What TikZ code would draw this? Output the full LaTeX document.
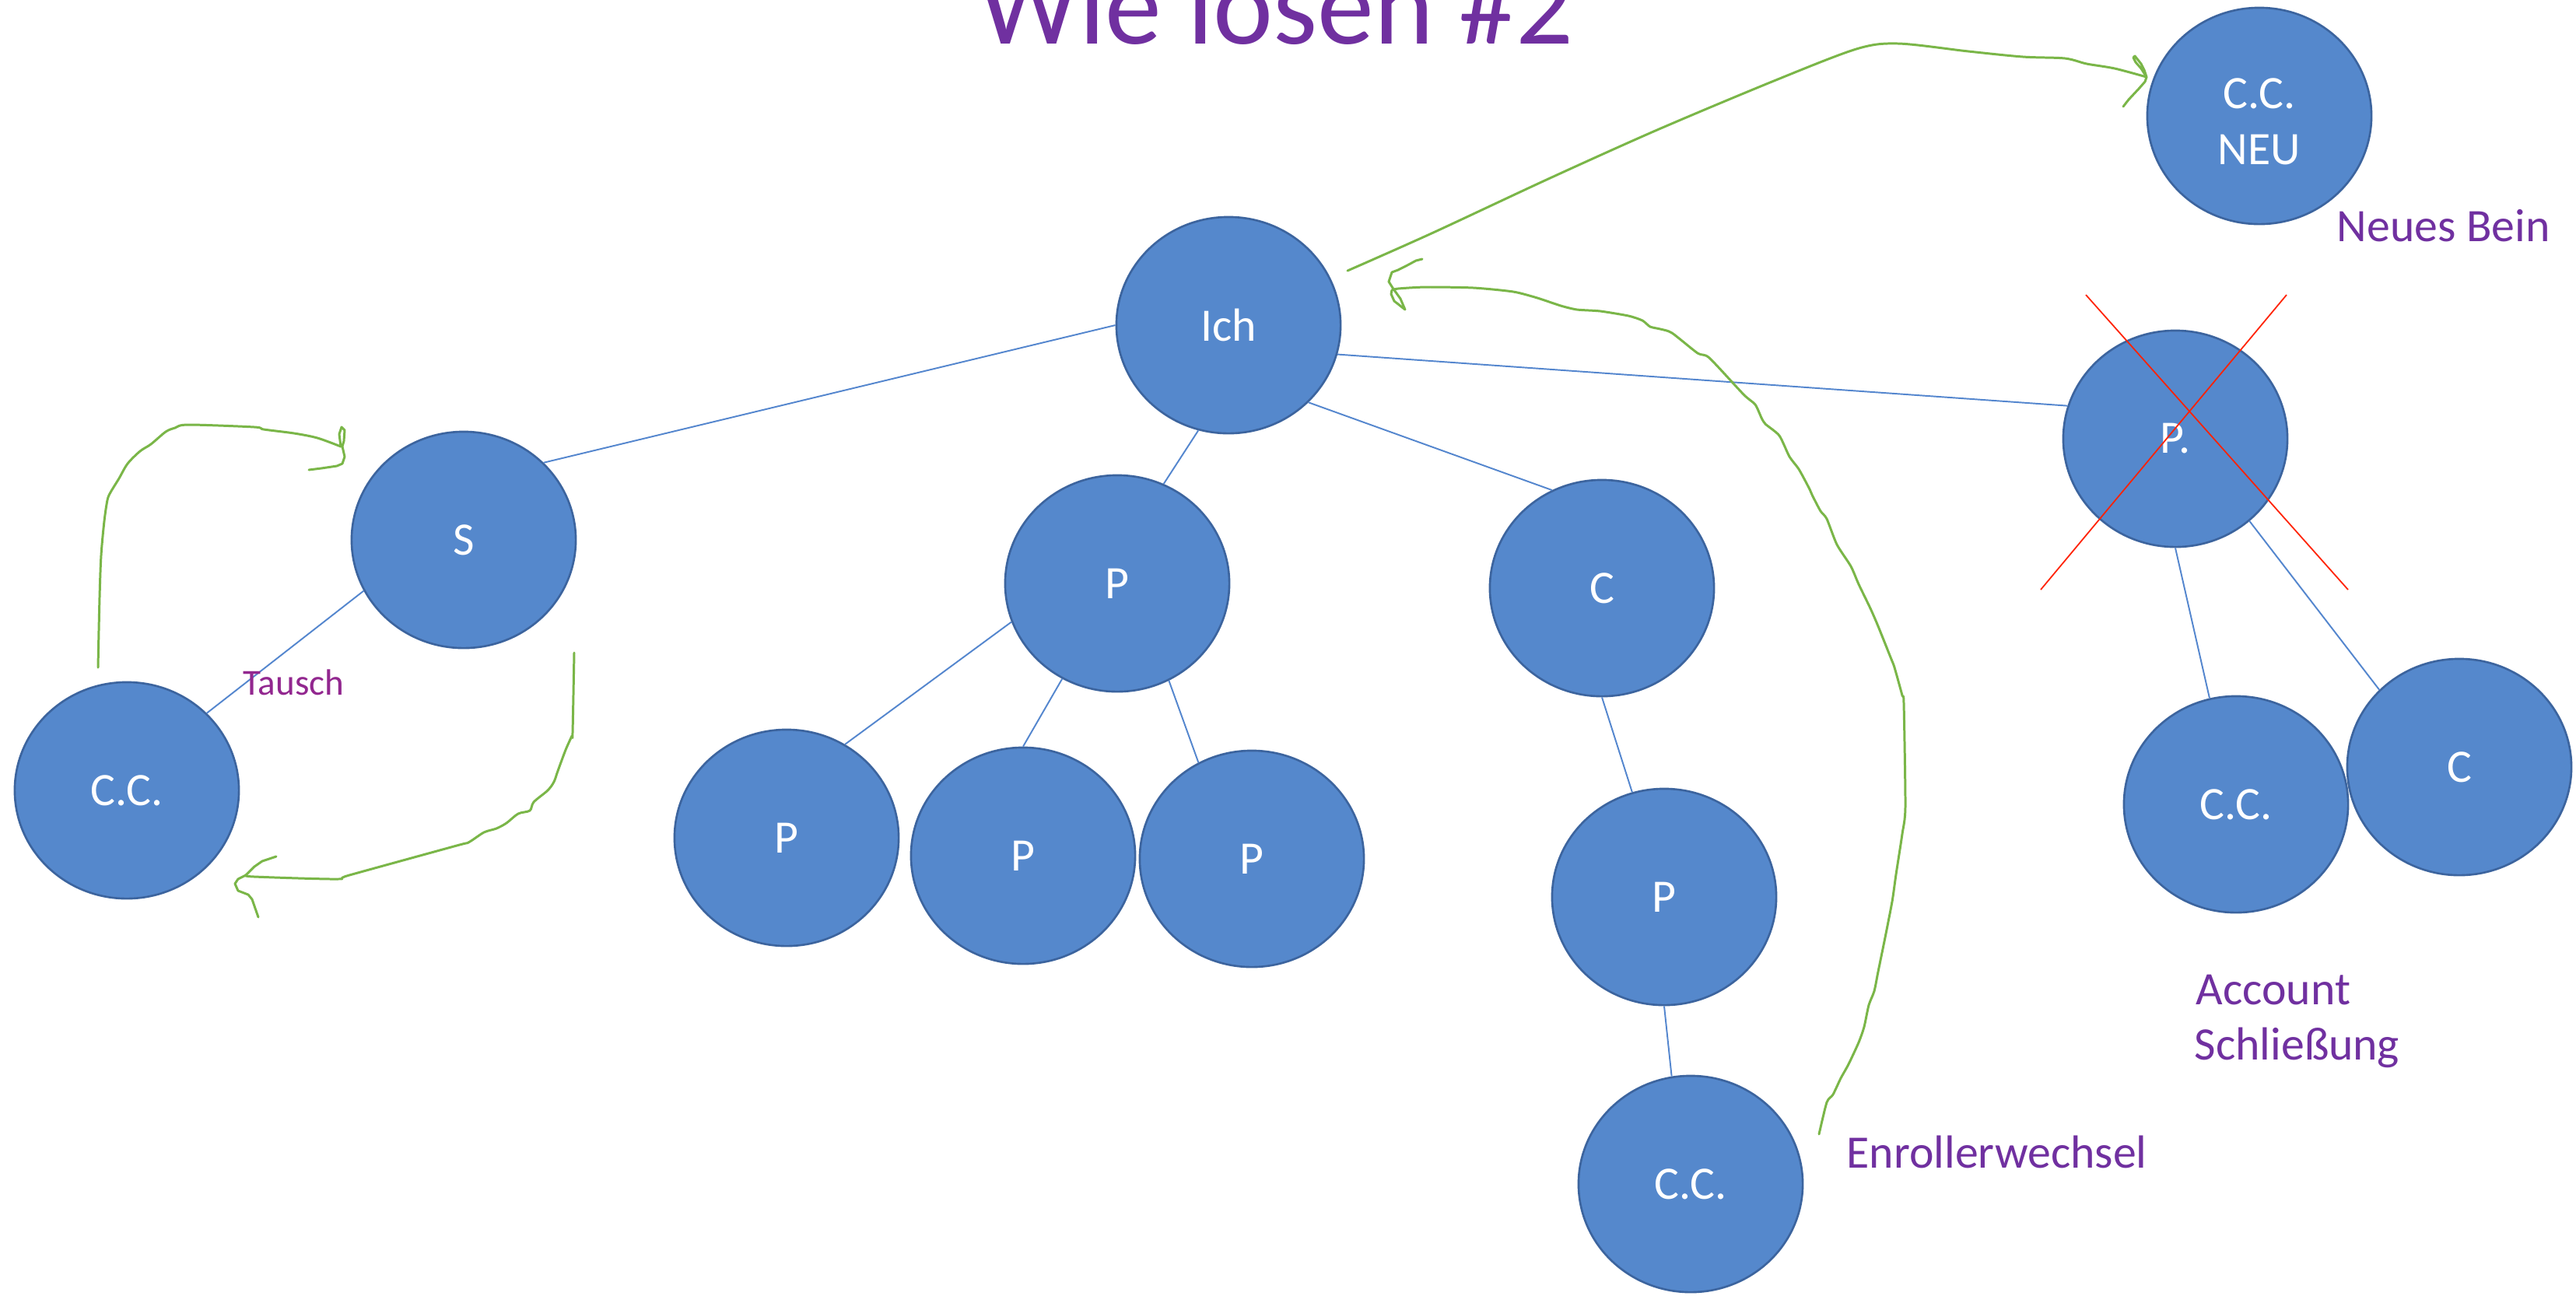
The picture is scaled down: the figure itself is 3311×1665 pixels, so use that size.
\documentclass[tikz,border=0pt]{standalone}
\usepackage{fontspec}
\setmainfont{Carlito}
\usetikzlibrary{shapes.geometric}

\definecolor{kreisblau}{RGB}{85,136,204}
\definecolor{randblau}{RGB}{60,100,158}
\definecolor{linienblau}{RGB}{84,134,206}
\definecolor{lila}{RGB}{112,48,160}
\definecolor{tauschlila}{RGB}{146,39,143}
\definecolor{gruen}{RGB}{122,182,72}
\definecolor{rot}{RGB}{255,34,0}

\begin{document}
\begin{tikzpicture}[x=0.01cm, y=-0.01cm,
    knoten/.style={ellipse, fill=kreisblau, draw=randblau, line width=0.75pt,
        minimum width=2.88cm, minimum height=2.78cm, inner sep=0pt,
        text=white, align=center, font=\fontsize{17}{20.5}\selectfont},
    kante/.style={draw=linienblau, line width=0.55pt},
    pfeil/.style={draw=gruen, line width=0.85pt, line join=round, line cap=round},
    kreuz/.style={draw=rot, line width=0.5pt},
    notiz/.style={text=lila, anchor=base west, inner sep=0pt, font=\fontsize{17}{20.5}\selectfont}]
    %\draw[very thin,color=gray] (0,0) grid[step=100] (3311,1665);
    \path[use as bounding box, fill=white] (0,0) rectangle (3311,1665);

    \node[text=lila, anchor=base, inner sep=0pt, font=\fontsize{41.5}{50}\selectfont] (titel) at (1640,56) {Wie lösen \#2};

    \node[knoten] (ich) at (1579,418) {Ich};
    \node[knoten] (s) at (596,694) {S};
    \node[knoten] (ccl) at (163,1016) {C.C.};
    \node[knoten] (p) at (1436,750) {P};
    \node[knoten] (c) at (2059,756) {C};
    \node[knoten] (pp) at (2796,564) {P.};
    \node[knoten] (ccneu) at (2904,149) {\rule{0pt}{0.54cm}C.C.\\NEU};
    \node[knoten] (p1) at (1011,1077) {P};
    \node[knoten] (p2) at (1315,1100) {P};
    \node[knoten] (p3) at (1609,1104) {P};
    \node[knoten] (p4) at (2139,1153) {P};
    \node[knoten] (ccb) at (2173,1522) {C.C.};
    \node[knoten] (ccr) at (2874,1034) {C.C.};
    \node[knoten] (cr) at (3161,986) {C};

    \draw[kante] (ich.180) -- (s.44);
    \draw[kante] (ich.254) -- (p.65);
    \draw[kante] (ich.-44) -- (c.117);
    \draw[kante] (ich.-15) -- (pp.163);
    \draw[kante] (s.207) -- (ccl.44);
    \draw[kante] (p.200) -- (p1.58);
    \draw[kante] (p.240) -- (p2.90);
    \draw[kante] (p.-62) -- (p3.119);
    \draw[kante] (c.270) -- (p4.107);
    \draw[kante] (p4.270) -- (ccb.100);
    \draw[kante] (pp.270) -- (ccr.104);
    \draw[kante] (pp.-48) -- (cr.136);

    \draw[kreuz] (2681,379) -- (3018,758);
    \draw[kreuz] (2939,379) -- (2623,758);

    \node[notiz] (neu) at (3003,310) {Neues Bein};
    \node[notiz] (wechsel) at (2373,1501) {Enrollerwechsel};
    \node[notiz] (acc) at (2822,1291) {Account};
    \node[notiz] (schl) at (2820,1362) {Schließung};
    \node[notiz, text=tauschlila, font=\fontsize{13.4}{16}\selectfont] (tausch) at (312,893) {Tausch};

    % Ich -> neues Bein
    \draw[pfeil] plot[smooth, tension=0.5] coordinates {(1732,348) (1840,300) (1990,230)
        (2130,167) (2280,104) (2386,63) (2440,56) (2530,66) (2600,73) (2654,75) (2682,82)
        (2718,88) (2759,99)};
    \draw[pfeil] (2729,137) -- (2736,128) -- (2750,113) -- (2757,105) -- (2759,99)
        -- (2756,90) -- (2752,82) -- (2744,72) -- (2742,74) -- (2745,80) -- (2752,88) -- (2759,99);

    % Enrollerwechsel
    \draw[pfeil] plot[smooth, tension=0.4] coordinates {(2338,1458) (2348,1417) (2356,1407)
        (2366,1386) (2376,1368) (2389,1340) (2396,1320) (2402,1292) (2409,1274) (2414,1249)
        (2422,1210) (2432,1159) (2437,1124) (2445,1072) (2449,1037) (2447,904) (2445,894)
        (2435,858) (2430,845) (2414,805) (2404,782) (2389,751) (2379,728) (2361,700)
        (2348,667) (2340,657) (2330,638) (2325,627) (2312,603) (2300,587) (2287,560)
        (2269,545) (2264,537) (2256,520) (2241,507) (2197,460) (2182,454) (2149,428)
        (2134,423) (2121,420) (2111,412) (2093,406) (2057,400) (2027,398) (2006,393)
        (1976,383) (1945,375) (1894,370) (1833,369) (1797,371) (1789,373)};
    \draw[pfeil] (1789,373) -- (1788,378) -- (1792,387) -- (1806,398) -- (1800,384)
        -- (1790,370) -- (1785,362) -- (1789,350) -- (1797,347) -- (1807,342) -- (1820,335)
        -- (1828,333);

    % Tausch
    \draw[pfeil] plot[smooth, tension=0.5] coordinates {(126,858) (128,768) (130,714)
        (134,670) (138,643) (142,633) (153,615) (164,596) (180,580) (194,571) (213,555)
        (225,550) (242,546) (327,549) (339,552) (378,557) (408,563) (438,574)};
    \draw[pfeil] (438,574) -- (436,558) -- (439,549) -- (443,553) -- (442,567) -- (440,574)
        -- (443,587) -- (440,596) -- (433,599) -- (413,602) -- (397,604);
    \draw[pfeil] plot[smooth, tension=0.5] coordinates {(738,839) (736,942) (735,946)
        (727,964) (717,991) (712,1005) (704,1016) (686,1031) (681,1042) (666,1046)
        (651,1058) (638,1065) (622,1070) (602,1083) (587,1087) (449,1125) (433,1130)
        (327,1127) (316,1125)};
    \draw[pfeil] (355,1101) -- (337,1107) -- (327,1114) -- (316,1125) -- (306,1130)
        -- (302,1136) -- (306,1145) -- (319,1150) -- (324,1156) -- (332,1179);
\end{tikzpicture}
\end{document}
